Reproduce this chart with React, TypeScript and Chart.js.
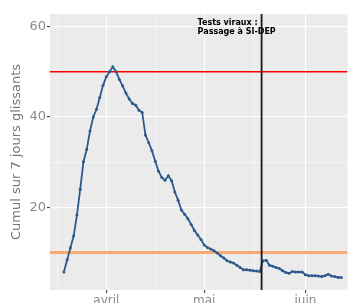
import React, { useEffect, useRef } from "react";
import { Chart, registerables } from "chart.js";

Chart.register(...registerables);

// ---- data ----
const firstDate = "2020-03-19";
const cumul7j = [
  5.7, 8.4, 11.0, 13.7, 18.3, 24.0, 30.1, 32.8, 36.9, 40.0,
  41.7, 44.3, 47.0, 48.9, 50.0, 51.1, 50.0, 48.3, 46.9, 45.3,
  44.0, 43.0, 42.6, 41.5, 41.0, 36.0, 34.3, 32.5, 30.2, 28.0,
  26.6, 26.0, 27.0, 25.9, 23.4, 21.6, 19.4, 18.5, 17.5, 16.2,
  14.9, 13.9, 12.9, 11.7, 11.1, 10.8, 10.4, 9.9, 9.3, 8.8,
  8.2, 7.9, 7.7, 7.2, 6.7, 6.2, 6.2, 6.1, 6.0, 5.9,
  5.8, 8.2, 8.3, 7.2, 7.0, 6.7, 6.5, 6.0, 5.6, 5.4,
  5.8, 5.7, 5.7, 5.7, 5.1, 4.9, 4.9, 4.9, 4.8, 4.7,
  4.9, 5.2, 4.8, 4.7, 4.5, 4.5,
];
const monthTickDates = ["2020-04-01", "2020-05-01", "2020-06-01"];
const monthLabels = ["avril", "mai", "juin"];
const yMajorTicks = [20, 40, 60];
const yMinorTicks = [10, 30, 50];
const seuilHaut = 50;
const seuilBas = 10;
const eventDate = "2020-05-18T14:00:00";
const annotationLines = ["Tests viraux :", "Passage à SI-DEP"];
const yTitle = "Cumul sur 7 jours glissants";

const REF = Date.parse("2020-04-01T00:00:00Z");
function dayOffset(s: string): number {
  const iso = s.length === 10 ? s + "T00:00:00Z" : s + "Z";
  return (Date.parse(iso) - REF) / 86400000;
}

const startDay = dayOffset(firstDate);
const points = cumul7j.map((v, i) => ({ x: startDay + i, y: v }));
const monthTicks = monthTickDates.map(dayOffset);
const xMinor = [
  monthTicks[0] - (monthTicks[1] - monthTicks[0]) / 2,
  (monthTicks[0] + monthTicks[1]) / 2,
  (monthTicks[1] + monthTicks[2]) / 2,
];
const eventDay = dayOffset(eventDate);

const X_MIN = -17.25;
const X_MAX = 73.9;
const Y_MIN = 1.72;
const Y_MAX = 62.78;

const isXMajor = (v: number) => monthTicks.some((m) => Math.abs(m - v) < 1e-6);
const isYMajor = (v: number) => yMajorTicks.includes(v);

const panelBg = {
  id: "panelBg",
  beforeDraw(chart: any) {
    const { ctx, chartArea } = chart;
    ctx.save();
    ctx.fillStyle = "#EBEBEB";
    ctx.fillRect(chartArea.left, chartArea.top, chartArea.right - chartArea.left, chartArea.bottom - chartArea.top);
    ctx.restore();
  },
};

const annot = {
  id: "annot",
  afterDraw(chart: any) {
    const { ctx } = chart;
    const xs = chart.scales.x;
    const x0 = xs.getPixelForValue(eventDay) - 64;
    ctx.save();
    ctx.fillStyle = "#000";
    ctx.font = "bold 8px 'DejaVu Sans'";
    ctx.textBaseline = "middle";
    ctx.textAlign = "left";
    ctx.fillText(annotationLines[0], x0, 23);
    ctx.fillText(annotationLines[1], x0, 32);
    ctx.restore();
  },
};

export default function App() {
  const ref = useRef<HTMLCanvasElement | null>(null);
  useEffect(() => {
    if (!ref.current) return;
    const chart = new Chart(ref.current, {
      type: "line",
      data: {
        datasets: [
          {
            data: [
              { x: eventDay, y: Y_MIN },
              { x: eventDay, y: Y_MAX },
            ],
            borderColor: "#1a1a1a",
            borderWidth: 1.8,
            pointRadius: 0,
          },
          {
            data: points,
            borderColor: "#2C5A8C",
            backgroundColor: "#2C5A8C",
            borderWidth: 1.8,
            pointRadius: 1.5,
            pointBorderWidth: 0,
            pointHoverRadius: 1.5,
          },
          {
            data: [
              { x: X_MIN, y: seuilHaut },
              { x: X_MAX, y: seuilHaut },
            ],
            borderColor: "#FF0000",
            borderWidth: 1.5,
            pointRadius: 0,
          },
          {
            data: [
              { x: X_MIN, y: seuilBas },
              { x: X_MAX, y: seuilBas },
            ],
            borderColor: "#F9AA74",
            borderWidth: 3,
            pointRadius: 0,
          },
        ],
      },
      options: {
        animation: false,
        responsive: false,
        maintainAspectRatio: false,
        events: [],
        layout: { padding: { top: 14, right: 0, left: 0, bottom: 0 } },
        plugins: { legend: { display: false }, tooltip: { enabled: false } },
        scales: {
          x: {
            type: "linear",
            min: X_MIN,
            max: X_MAX,
            border: { display: false },
            afterBuildTicks: (scale: any) => {
              scale.ticks = [...xMinor, ...monthTicks].sort((a, b) => a - b).map((v) => ({ value: v }));
            },
            afterFit: (scale: any) => {
              scale.height = 13;
            },
            grid: {
              color: "#FFFFFF",
              lineWidth: (c: any) => (c.tick && isXMajor(c.tick.value) ? 1.1 : 0.55),
              tickColor: (c: any) => (c.tick && isXMajor(c.tick.value) ? "#444" : "rgba(0,0,0,0)"),
              tickLength: 3,
            },
            ticks: {
              autoSkip: false,
              maxRotation: 0,
              padding: 1,
              color: "#8a8a8a",
              font: { family: "DejaVu Sans", size: 12 },
              callback: (v: any) => {
                const i = monthTicks.findIndex((m) => Math.abs(m - v) < 1e-6);
                return i >= 0 ? monthLabels[i] : "";
              },
            },
          },
          y: {
            type: "linear",
            min: Y_MIN,
            max: Y_MAX,
            border: { display: false },
            afterBuildTicks: (scale: any) => {
              scale.ticks = [...yMinorTicks, ...yMajorTicks].sort((a, b) => a - b).map((v) => ({ value: v }));
            },
            afterFit: (scale: any) => {
              scale.width = 50;
            },
            grid: {
              color: "#FFFFFF",
              lineWidth: (c: any) => (c.tick && isYMajor(c.tick.value) ? 1.1 : 0.55),
              tickColor: (c: any) => (c.tick && isYMajor(c.tick.value) ? "#444" : "rgba(0,0,0,0)"),
              tickLength: 3,
            },
            ticks: {
              padding: 1,
              color: "#8a8a8a",
              font: { family: "DejaVu Sans", size: 13 },
              callback: (v: any) => (isYMajor(v) ? String(v) : ""),
            },
            title: {
              display: true,
              text: yTitle,
              color: "#777",
              font: { family: "DejaVu Sans", size: 13 },
              padding: { top: 9, bottom: 0 },
            },
          },
        },
      },
      plugins: [panelBg, annot],
    } as any);
    return () => chart.destroy();
  }, []);
  return (
    <div style={{ position: "absolute", left: 0, top: 0, width: 349, height: 303, background: "#fff" }}>
      <canvas ref={ref} width={349} height={303} style={{ display: "block", width: 349, height: 303 }} />
    </div>
  );
}
